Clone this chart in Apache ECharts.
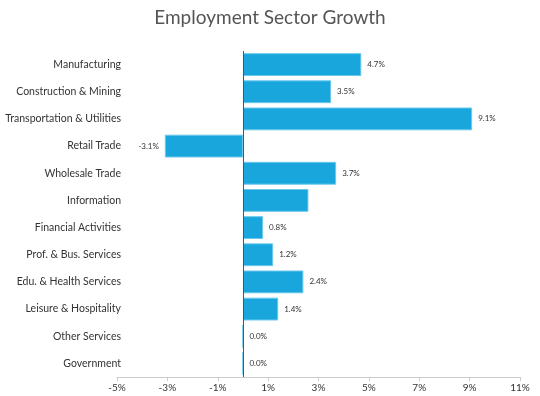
<!DOCTYPE html>
<html>
<head>
<meta charset="utf-8">
<script src="https://cdn.jsdelivr.net/npm/echarts@6/dist/echarts.min.js"></script>
<style>
  html, body { margin: 0; padding: 0; background: #fff; }
  #chart { width: 540px; height: 396px; }
</style>
</head>
<body>
<div id="chart"></div>
<script>
  var sectors = [
    'Manufacturing', 'Construction & Mining', 'Transportation & Utilities',
    'Retail Trade', 'Wholesale Trade', 'Information', 'Financial Activities',
    'Prof. & Bus. Services', 'Edu. & Health Services', 'Leisure & Hospitality',
    'Other Services', 'Government'
  ];
  var growth = [4.7, 3.5, 9.1, -3.1, 3.7, 2.6, 0.8, 1.2, 2.4, 1.4, 0.0, 0.0];
  // sectors whose value label is not shown in the original
  var unlabeled = ['Information'];

  var chart = echarts.init(document.getElementById('chart'));
  var font = 'Lato, "Open Sans", sans-serif';

  chart.setOption({
    animation: false,
    title: {
      text: 'Employment Sector Growth',
      left: 'center',
      top: 3,
      textStyle: {
        fontFamily: font,
        fontSize: 19,
        fontWeight: 'normal',
        color: '#555'
      }
    },
    grid: {
      left: 117,
      right: 20,
      top: 51,
      bottom: 19
    },
    xAxis: {
      type: 'value',
      min: -5,
      max: 11,
      interval: 2,
      splitLine: { show: false },
      axisLine: { show: true, lineStyle: { color: '#ccc' } },
      axisTick: { show: true, length: 4, lineStyle: { color: '#ccc' } },
      axisLabel: {
        fontFamily: font,
        fontSize: 10,
        color: '#333',
        margin: 6,
        formatter: '{value}%'
      }
    },
    yAxis: {
      type: 'category',
      inverse: true,
      data: sectors,
      axisLine: { show: false },
      axisTick: { show: false },
      axisLabel: {
        fontFamily: font,
        fontSize: 10.5,
        color: '#333',
        margin: -4
      }
    },
    series: [{
      type: 'bar',
      barCategoryGap: '16%',
      data: growth.map(function (v, i) {
        return {
          value: v,
          label: {
            show: unlabeled.indexOf(sectors[i]) < 0,
            position: v < 0 ? 'left' : 'right'
          }
        };
      }),
      itemStyle: {
        color: '#18a6dd',
        borderColor: '#6cc8ec',
        borderWidth: 1
      },
      label: {
        show: true,
        distance: 6,
        fontFamily: font,
        fontSize: 8,
        color: '#333',
        formatter: function (p) { return p.value.toFixed(1) + '%'; }
      },
      markLine: {
        silent: true,
        symbol: 'none',
        label: { show: false },
        lineStyle: { color: '#555', type: 'solid', width: 1 },
        data: [{ xAxis: 0 }]
      }
    }]
  });
</script>
</body>
</html>
